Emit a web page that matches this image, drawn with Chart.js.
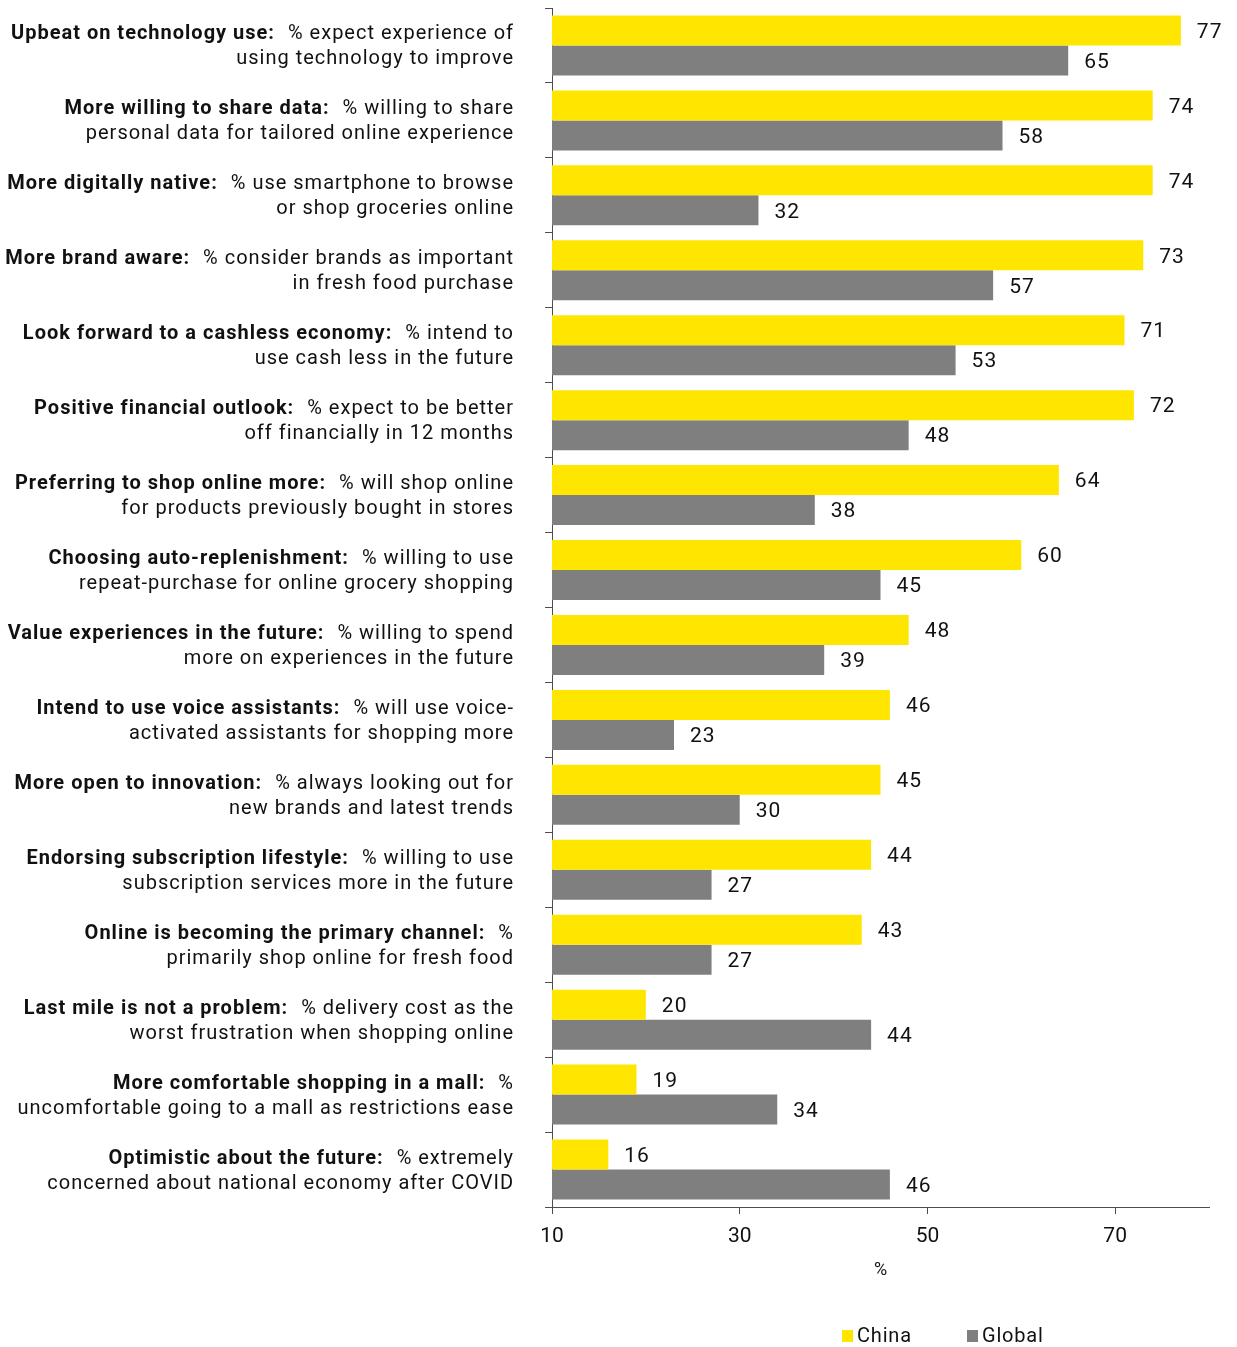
<!DOCTYPE html>
<html>
<head>
<meta charset="utf-8">
<title>Consumer sentiment: China vs Global</title>
<script src="https://cdn.jsdelivr.net/npm/chart.js@4.4.1/dist/chart.umd.min.js"></script>
<style>
  html, body { margin: 0; padding: 0; background: #fff; }
  #wrap { width: 1237px; height: 1347px; position: relative; }
</style>
</head>
<body>
<div id="wrap"><canvas id="sentimentChart"></canvas></div>
<script>
// bold lead-in, rest of first line, second line
var leadIns = [
    'Upbeat on technology use:', 'More willing to share data:', 'More digitally native:',
    'More brand aware:', 'Look forward to a cashless economy:', 'Positive financial outlook:',
    'Preferring to shop online more:', 'Choosing auto-replenishment:', 'Value experiences in the future:',
    'Intend to use voice assistants:', 'More open to innovation:', 'Endorsing subscription lifestyle:',
    'Online is becoming the primary channel:', 'Last mile is not a problem:',
    'More comfortable shopping in a mall:', 'Optimistic about the future:'
];
var firstLines = [
    '% expect experience of', '% willing to share', '% use smartphone to browse',
    '% consider brands as important', '% intend to', '% expect to be better',
    '% will shop online', '% willing to use', '% willing to spend',
    '% will use voice-', '% always looking out for', '% willing to use',
    '%', '% delivery cost as the', '%', '% extremely'
];
var secondLines = [
    'using technology to improve', 'personal data for tailored online experience',
    'or shop groceries online', 'in fresh food purchase', 'use cash less in the future',
    'off financially in 12 months', 'for products previously bought in stores',
    'repeat-purchase for online grocery shopping', 'more on experiences in the future',
    'activated assistants for shopping more', 'new brands and latest trends',
    'subscription services more in the future', 'primarily shop online for fresh food',
    'worst frustration when shopping online', 'uncomfortable going to a mall as restrictions ease',
    'concerned about national economy after COVID'
];
var chinaValues  = [77, 74, 74, 73, 71, 72, 64, 60, 48, 46, 45, 44, 43, 20, 19, 16];
var globalValues = [65, 58, 32, 57, 53, 48, 38, 45, 39, 23, 30, 27, 27, 44, 34, 46];
var xTicks = [10, 30, 50, 70];

var FONT = 'Roboto, "DejaVu Sans", sans-serif';
var YELLOW = '#FFE600';
var GREY = '#7F7F7F';
var AXIS = '#4d4d4d';

// two-line category labels drawn right-aligned beside the y axis
var categoryLabels = {
    id: 'categoryLabels',
    afterDraw: function(chart) {
        var ctx = chart.ctx;
        var y = chart.scales.y;
        var right = y.right - 38;
        ctx.save();
        ctx.textBaseline = 'middle';
        ctx.textAlign = 'right';
        ctx.fillStyle = '#111';
        ctx.letterSpacing = '1px';
        for (var i = 0; i < leadIns.length; i++) {
            var cy = y.getPixelForValue(i);
            ctx.font = '400 20px ' + FONT;
            ctx.fillText(firstLines[i], right, cy - 11);
            var w = ctx.measureText(firstLines[i]).width;
            ctx.font = '700 20px ' + FONT;
            ctx.fillText(leadIns[i], right - w - 13, cy - 11);
            ctx.font = '400 20px ' + FONT;
            ctx.fillText(secondLines[i], right, cy + 14);
        }
        ctx.restore();
    }
};

// value at the end of each bar
var valueLabels = {
    id: 'valueLabels',
    afterDatasetsDraw: function(chart) {
        var ctx = chart.ctx;
        ctx.save();
        ctx.font = '400 21px ' + FONT;
        ctx.letterSpacing = '1px';
        ctx.fillStyle = '#111';
        ctx.textBaseline = 'middle';
        ctx.textAlign = 'left';
        chart.data.datasets.forEach(function(ds, di) {
            chart.getDatasetMeta(di).data.forEach(function(bar, i) {
                ctx.fillText(String(ds.data[i]), bar.x + 16, bar.y + 2);
            });
        });
        ctx.restore();
    }
};

// legend with small square swatches under the axis title
var squareLegend = {
    id: 'squareLegend',
    afterDraw: function(chart) {
        var ctx = chart.ctx;
        var items = [[chart.data.datasets[0], 842], [chart.data.datasets[1], 967]];
        ctx.save();
        ctx.font = '400 20px ' + FONT;
        ctx.letterSpacing = '0.8px';
        ctx.textBaseline = 'middle';
        ctx.textAlign = 'left';
        items.forEach(function(it) {
            ctx.fillStyle = it[0].backgroundColor;
            ctx.fillRect(it[1], 1330, 11, 12);
            ctx.fillStyle = '#111';
            ctx.fillText(it[0].label, it[1] + 15, 1337);
        });
        ctx.restore();
    }
};

document.addEventListener('DOMContentLoaded', function() {
    var ctx = document.getElementById('sentimentChart').getContext('2d');

    var sentimentChart = new Chart(ctx, {
        type: 'bar',
        data: {
            labels: leadIns,
            datasets: [{
                label: 'China',
                data: chinaValues,
                backgroundColor: YELLOW,
                categoryPercentage: 0.8,
                barPercentage: 1.0
            }, {
                label: 'Global',
                data: globalValues,
                backgroundColor: GREY,
                categoryPercentage: 0.8,
                barPercentage: 1.0
            }]
        },
        options: {
            indexAxis: 'y',
            responsive: true,
            maintainAspectRatio: false,
            animation: false,
            layout: { padding: { top: 8, right: 28, left: 0, bottom: 0 } },
            scales: {
                x: {
                    min: 10,
                    max: 80,
                    afterBuildTicks: function(axis) {
                        axis.ticks = xTicks.map(function(v) { return { value: v }; });
                    },
                    afterFit: function(axis) { axis.height = 140; },
                    border: { color: AXIS, width: 1 },
                    grid: { drawOnChartArea: false, drawTicks: true, tickLength: 7, color: AXIS },
                    ticks: {
                        color: '#111',
                        padding: 10,
                        font: { family: FONT, size: 21 }
                    },
                    title: {
                        display: true,
                        text: '%',
                        color: '#111',
                        font: { family: FONT, size: 18 },
                        padding: { top: 0, bottom: 66 }
                    }
                },
                y: {
                    afterFit: function(axis) { axis.width = 552; },
                    border: { color: AXIS, width: 1 },
                    grid: { drawOnChartArea: false, drawTicks: true, tickLength: 7, color: AXIS, offset: true },
                    ticks: { display: false }
                }
            },
            plugins: {
                legend: { display: false },
                tooltip: { enabled: false }
            }
        },
        plugins: [categoryLabels, valueLabels, squareLegend]
    });
});
</script>
</body>
</html>
